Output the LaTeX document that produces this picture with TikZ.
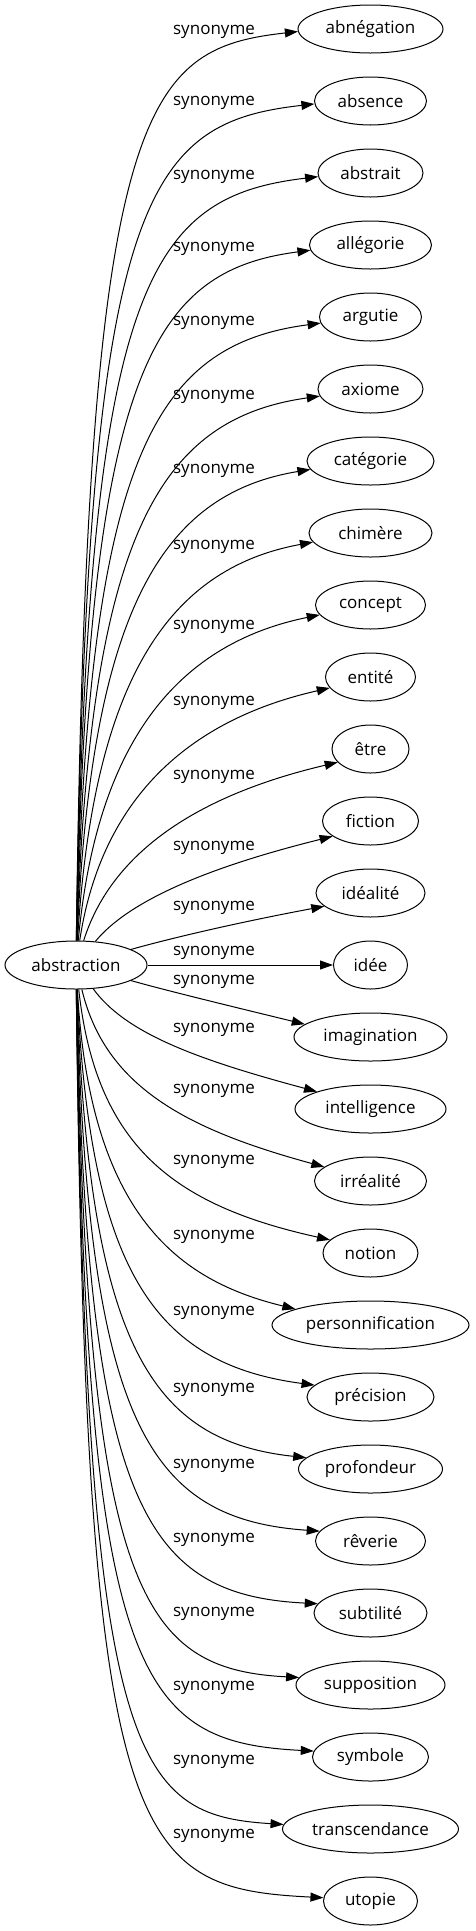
\documentclass[tikz,border=0pt]{standalone}
\usepackage{fontspec}
\setmainfont{Open Sans}
\usetikzlibrary{shapes.geometric,arrows.meta}
\begin{document}
\begin{tikzpicture}[x=1pt,y=-1pt,
  every node/.style={font=\fontsize{17}{20}\selectfont},
  term/.style={ellipse,draw,line width=1pt,inner sep=0pt,minimum height=48pt},
  lbl/.style={inner sep=0pt},
  edge/.style={draw,line width=1pt,-{Triangle[length=13pt,width=9pt]}}]
\useasboundingbox (0,0) rectangle (475,1931);
\node[term,minimum width=142pt] (src) at (76,965) {abstraction};
\foreach \i/\nm/\w in {0/abnégation/145,1/absence/112,2/abstrait/105,3/allégorie/122,
  4/argutie/102,5/axiome/105,6/catégorie/127,7/chimère/123,8/concept/110,9/entité/90,
  10/être/77,11/fiction/96,12/idéalité/109,13/idée/74,14/imagination/153,
  15/intelligence/151,16/irréalité/112,17/notion/95,18/personnification/197,
  19/précision/127,20/profondeur/144,21/rêverie/110,22/subtilité/113,
  23/supposition/149,24/symbole/116,25/transcendance/176,26/utopie/94}{
  \pgfmathsetmacro\yy{29+72*\i}
  \node[term,minimum width=\w pt] (t\i) at (370.5,\yy) {\nm};
}
\foreach \i/\ly in {0/32,1/103,2/177,3/249,4/323,5/397,6/471,7/547,8/627,9/703,
  10/777,11/848,12/908,13/953,14/982,15/1030,16/1091,17/1162,18/1237,19/1313,
  20/1390,21/1466,22/1540,23/1614,24/1688,25/1762,26/1836}{
  \node[lbl] (l\i) at (214,\ly) {synonyme};
}
\foreach \i/\w in {0/145,1/112,2/105,3/122,4/102,5/105,6/127,7/123,8/110,9/90,
  10/77,11/96,12/109,13/74,14/153,15/151,16/112,17/95,18/197,19/127,20/144,
  21/110,22/113,23/149,24/116,25/176,26/94}{
  \pgfmathtruncatemacro\k{abs(\i-13)}
  \ifnum\k=0
    \draw[edge] (src) -- (t\i);
  \else
    \pgfmathsetmacro\s{sign(\i-13)}
    \pgfmathsetmacro\yh{29+72*\i}
    \pgfmathsetmacro\H{72*\k}
    \ifnum\i<13
      \pgfmathsetmacro\pax{{165,128,110,100,96,93,91,90,89,88,88,87,87}[\k-1]}
      \pgfmathsetmacro\ff{{0.35,0.44,0.50,0.55,0.60,0.65,0.70,0.74,0.78,0.82,0.86,0.89,0.92}[\k-1]}
      \pgfmathsetmacro\pbx{{230,205,190,180,172,166,161,157,153,150,147,144,142}[\k-1]}
      \pgfmathsetmacro\mm{{31,47,48,45,40,36,33,30,28,26,24,22,20}[\k-1]}
      \pgfmathsetmacro\ee{{13,15,13,11,10,9,8,7,6,5,4,3,3}[\k-1]}
    \else
      \pgfmathsetmacro\pax{{165,125,105,96,90,90,89,88,87,87,86,86,86}[\k-1]}
      \pgfmathsetmacro\ff{{0.35,0.47,0.56,0.625,0.70,0.71,0.75,0.79,0.83,0.87,0.90,0.925,0.945}[\k-1]}
      \pgfmathsetmacro\pbx{{230,195,185,172,180,155,150,146,142,139,136,134,132}[\k-1]}
      \pgfmathsetmacro\mm{{31,50,52,48,44,33,28,22,18,16,15,14,13}[\k-1]}
      \pgfmathsetmacro\ee{{13,17,14,13,16,12,11,10,9,8,6,5,3}[\k-1]}
    \fi
    \pgfmathsetmacro\pay{965+\s*\ff*\H}
    \pgfmathsetmacro\pby{\yh-\s*\mm}
    \pgfmathsetmacro\aa{\w/2}
    \pgfmathtruncatemacro\ang{round(180-\s*atan(\ee/(\aa*sqrt(1-(\ee/24)^2))))}
    \draw[edge] (src) .. controls (\pax,\pay) and (\pbx,\pby) .. (t\i.\ang);
  \fi
}
\end{tikzpicture}
\end{document}
